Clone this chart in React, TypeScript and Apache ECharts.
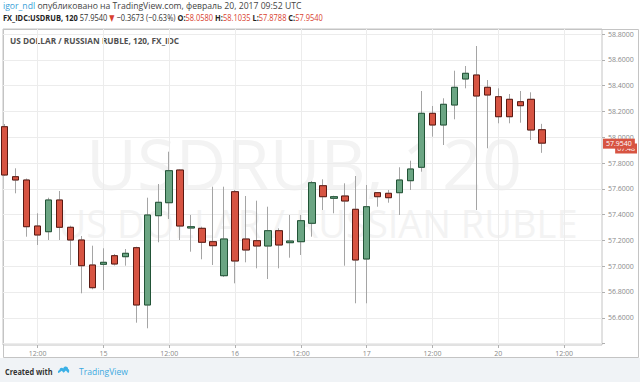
import React, { useEffect, useRef } from 'react';
import * as echarts from 'echarts';

// slot index of every 2-hour candle (0 = Feb 14 00:00, 12 slots per trading day)
const candleIndex = [
  3, 4, 5, 6, 7, 8, 9, 10, 11, 12, 13, 14, 15, 16, 17, 18, 19, 20, 21, 22, 23, 24, 25, 26, 27,
  28, 29, 30, 31, 32, 33, 34, 35, 36, 37, 38, 39, 40, 41, 42, 43, 44, 45, 46, 47, 48, 49, 50, 51, 52,
];
const opens = [
  58.0814, 57.6938, 57.6682, 57.3116, 57.2674, 57.5132, 57.3016, 57.2031, 57.0093, 57.0147,
  57.0814, 57.0736, 57.1434, 56.6992, 57.3915, 57.4922, 57.7457, 57.2961, 57.2938, 57.1899,
  56.9264, 57.5775, 57.2109, 57.1977, 57.1566, 57.2752, 57.1822, 57.1899, 57.3326, 57.624,
  57.5264, 57.5442, 57.4411, 57.0558, 57.5698, 57.5651, 57.5698, 57.6628, 57.7667, 58.1853,
  58.0946, 58.2496, 58.4512, 58.4822, 58.3868, 58.314, 58.2938, 58.2752, 58.2938, 58.058,
];
const closes = [
  57.707, 57.6682, 57.3062, 57.2419, 57.5132, 57.3016, 57.2031, 57.0039, 56.8333, 57.0302,
  57.0171, 57.1, 56.6992, 57.3969, 57.4953, 57.7403, 57.3116, 57.3062, 57.1853, 57.1589,
  57.2109, 57.0403, 57.1256, 57.1566, 57.2752, 57.1643, 57.1953, 57.3527, 57.6473, 57.5388,
  57.5388, 57.5054, 57.0481, 57.4612, 57.5388, 57.531, 57.6682, 57.7535, 58.1853, 58.0946,
  58.255, 58.3868, 58.4953, 58.3194, 58.3271, 58.1589, 58.1589, 58.2442, 58.0558, 57.954,
];
const lows = [
  57.6992, 57.5651, 57.2287, 57.1643, 57.2031, 57.2031, 57.0093, 56.7899, 56.8209, 56.8155,
  57.0054, 57.0039, 56.562, 56.5186, 57.1853, 57.3659, 57.2031, 57.1124, 57.0535, 57.0093,
  56.9163, 56.8674, 57.0302, 56.9837, 56.9008, 56.9837, 57.0659, 57.0868, 57.2287, 57.4357,
  57.4101, 57.0039, 56.7124, 56.7124, 57.4612, 57.4922, 57.3969, 57.5907, 57.7326, 58.0039,
  57.9395, 58.1388, 58.3791, 57.4357, 57.914, 58.1078, 58.1078, 58.1124, 57.9783, 57.8788,
];
const highs = [
  58.1023, 57.7589, 57.6798, 57.4101, 57.531, 57.5829, 57.314, 57.2341, 57.1589, 57.1388,
  57.0946, 57.1333, 57.1512, 57.531, 57.6372, 57.8876, 57.7512, 57.3969, 57.3062, 57.6163,
  57.6163, 57.5907, 57.5442, 57.5078, 57.4612, 57.2938, 57.3969, 57.3969, 57.6605, 57.6736,
  57.5465, 57.6426, 57.6992, 57.6295, 57.5752, 57.5907, 57.7667, 57.8178, 58.3581, 58.2419,
  58.3016, 58.5155, 58.5519, 58.707, 58.4434, 58.3791, 58.3349, 58.3581, 58.3481, 58.1035,
];

const xTickIndex = [6, 12, 18, 24, 30, 36, 42, 48, 54];
const xTickLabels = ['12:00', '15', '12:00', '16', '12:00', '17', '12:00', '20', '12:00'];
const yGridValues = [56.4, 56.6, 56.8, 57.0, 57.2, 57.4, 57.6, 57.8, 58.0, 58.2, 58.4, 58.6, 58.8];
const yLabelValues = [56.6, 56.8, 57.0, 57.2, 57.4, 57.6, 57.8, 58.0, 58.2, 58.4, 58.6, 58.8];

const FONT = "'Open Sans','DejaVu Sans Condensed',sans-serif";
const UP = '#6ba583';
const DOWN = '#d75442';
const UP_BORDER = '#225437';
const DOWN_BORDER = '#5b1a13';
const WICK = '#a5a5a5';

const LOGO_D =
  'M1 10 C-0.5 10 -0.5 6.5 2 6 C2 3 5.5 2 7 4 C8 0.5 13 0.5 13.5 4.5 C15.5 5 15.5 9 13.5 10 L10.5 6.5 L7.5 9.5 L5 7 Z';
let logoRegistered = false;

export default function App() {
  const ref = useRef<HTMLDivElement>(null);

  useEffect(() => {
    if (!ref.current) return;
    if (!logoRegistered) {
      echarts.graphic.registerShape('tvlogo', echarts.graphic.extendPath(LOGO_D, {}));
      logoRegistered = true;
    }
    const chart = echarts.init(ref.current, undefined, { renderer: 'svg' });

    const wickData = candleIndex.map((x, i) => [x, opens[i], closes[i], lows[i], highs[i]]);
    const bodyData = candleIndex.map((x, i) => [
      x,
      opens[i],
      closes[i],
      Math.min(opens[i], closes[i]),
      Math.max(opens[i], closes[i]),
    ]);
    const n = opens.length - 1;
    const lastO = opens[n].toFixed(4);
    const lastH = highs[n].toFixed(4);
    const lastL = lows[n].toFixed(4);
    const lastC = closes[n].toFixed(4);

    chart.setOption({
      animation: false,
      backgroundColor: 'transparent',
      grid: {
        left: 3,
        top: 29,
        right: 38,
        bottom: 37,
        show: true,
        borderColor: '#c4c4c4',
        borderWidth: 1,
        backgroundColor: 'transparent',
      },
      xAxis: {
        type: 'value',
        min: 2.845,
        max: 57.45,
        axisLine: { show: false },
        axisTick: {
          show: true,
          customValues: xTickIndex,
          length: 3,
          lineStyle: { color: '#b0b0b0' },
        },
        axisLabel: {
          customValues: xTickIndex,
          formatter: (v: number) => {
            const k = xTickIndex.indexOf(Math.round(v));
            return k >= 0 ? xTickLabels[k] : '';
          },
          color: '#8a8a8a',
          fontSize: 7,
          fontFamily: FONT,
          margin: 5,
        },
        splitLine: { show: true, lineStyle: { color: '#ececec', width: 1 } },
      },
      yAxis: {
        type: 'value',
        position: 'right',
        min: 56.3891,
        max: 58.8388,
        axisLine: { show: false },
        axisTick: {
          show: true,
          customValues: yGridValues,
          length: 3,
          lineStyle: { color: '#b0b0b0' },
        },
        axisLabel: {
          customValues: yLabelValues,
          formatter: (v: number) => v.toFixed(4),
          color: '#8a8a8a',
          fontSize: 7,
          fontFamily: FONT,
          margin: 6,
        },
        splitLine: { show: true, lineStyle: { color: '#ececec', width: 1 } },
      },
      series: [
        {
          type: 'candlestick',
          name: 'wicks',
          data: wickData,
          barWidth: 7,
          silent: true,
          itemStyle: {
            color: WICK,
            color0: WICK,
            borderColor: WICK,
            borderColor0: WICK,
            borderWidth: 1,
          },
          z: 2,
        },
        {
          type: 'candlestick',
          name: 'USDRUB',
          data: bodyData,
          barWidth: 7,
          silent: true,
          itemStyle: {
            color: UP,
            color0: DOWN,
            borderColor: UP_BORDER,
            borderColor0: DOWN_BORDER,
            borderWidth: 1,
          },
          z: 3,
          markLine: {
            silent: true,
            symbol: ['none', 'none'],
            lineStyle: { color: 'rgba(0,0,0,0)', width: 1 },
            data: [{ yAxis: closes[n] }],
            label: {
              show: true,
              position: 'end',
              distance: 1,
              formatter: lastC,
              color: '#ffffff',
              backgroundColor: DOWN,
              padding: [2, 3, 1, 3],
              fontSize: 7,
              fontFamily: FONT,
            },
          },
        },
      ],
      graphic: [
        {
          type: 'rect',
          z: -10,
          shape: { x: 0, y: 358, width: 640, height: 24 },
          style: { fill: '#f0f3f6' },
        },
        {
          type: 'rect',
          z: -5,
          shape: { x: 3.5, y: 29.5, width: 635, height: 328 },
          style: { fill: 'none', stroke: '#c4c4c4', lineWidth: 1 },
        },
        {
          type: 'text',
          z: -1,
          x: 304,
          y: 163,
          style: {
            text: 'USDRUB, 120',
            fill: '#f3f3f3',
            font: "normal 70px 'Open Sans', sans-serif",
            align: 'center',
            verticalAlign: 'middle',
          },
        },
        {
          type: 'text',
          z: -1,
          x: 318,
          y: 223,
          style: {
            text: 'US DOLLAR / RUSSIAN RUBLE',
            fill: '#f3f3f3',
            font: "normal 38px 'Open Sans', sans-serif",
            align: 'center',
            verticalAlign: 'middle',
          },
        },
        {
          type: 'text',
          x: 10,
          y: 41,
          scaleX: 0.92,
          style: {
            text: 'US DOLLAR / RUSSIAN RUBLE, 120, FX_IDC',
            fill: '#505050',
            font: `bold 9px ${FONT}`,
            verticalAlign: 'middle',
          },
        },
        {
          type: 'text',
          x: 3,
          y: 6,
          scaleX: 0.96,
          style: {
            text: '{u|igor_ndl} опубликовано на TradingView.com, февраль 20, 2017 09:52 UTC',
            fill: '#444444',
            font: `9px ${FONT}`,
            verticalAlign: 'middle',
            rich: { u: { fill: '#3a9fd8', font: `9px ${FONT}` } },
          },
        },
        {
          type: 'text',
          x: 3,
          y: 17.5,
          scaleX: 0.83,
          style: {
            text:
              `{b|FX_IDC:USDRUB, 120} ${lastC} {r|▼} −0.3673 (−0.63%) ` +
              `{b|O:}{r|${lastO}} {b|H:}{r|${lastH}} {b|L:}{r|${lastL}} {b|C:}{r|${lastC}}`,
            fill: '#333333',
            font: `9px ${FONT}`,
            verticalAlign: 'middle',
            rich: {
              b: { fill: '#222222', font: `bold 9px ${FONT}` },
              r: { fill: '#d9412f', font: `9px ${FONT}` },
            },
          },
        },
        {
          type: 'text',
          x: 637,
          y: 148.5,
          style: {
            text: '07:48',
            fill: '#ffffff',
            font: `7px ${FONT}`,
            align: 'right',
            verticalAlign: 'middle',
            backgroundColor: DOWN,
            padding: [2, 2, 1, 2],
          },
        },
        {
          type: 'text',
          x: 5,
          y: 371,
          scaleX: 0.82,
          style: {
            text: 'Created with',
            fill: '#333333',
            font: `bold 9px ${FONT}`,
            verticalAlign: 'middle',
          },
        },
        {
          type: 'tvlogo',
          x: 58,
          y: 365.5,
          scaleX: 0.75,
          scaleY: 0.75,
          style: { fill: '#3bb0e6' },
        },
        {
          type: 'text',
          x: 79,
          y: 371,
          scaleX: 0.9,
          style: {
            text: 'TradingView',
            fill: '#3ba9e0',
            font: `9.5px ${FONT}`,
            verticalAlign: 'middle',
          },
        },
      ],
    });

    return () => {
      chart.dispose();
    };
  }, []);

  return (
    <div
      ref={ref}
      style={{ position: 'absolute', left: 0, top: 0, width: 640, height: 382, background: '#ffffff' }}
    />
  );
}
